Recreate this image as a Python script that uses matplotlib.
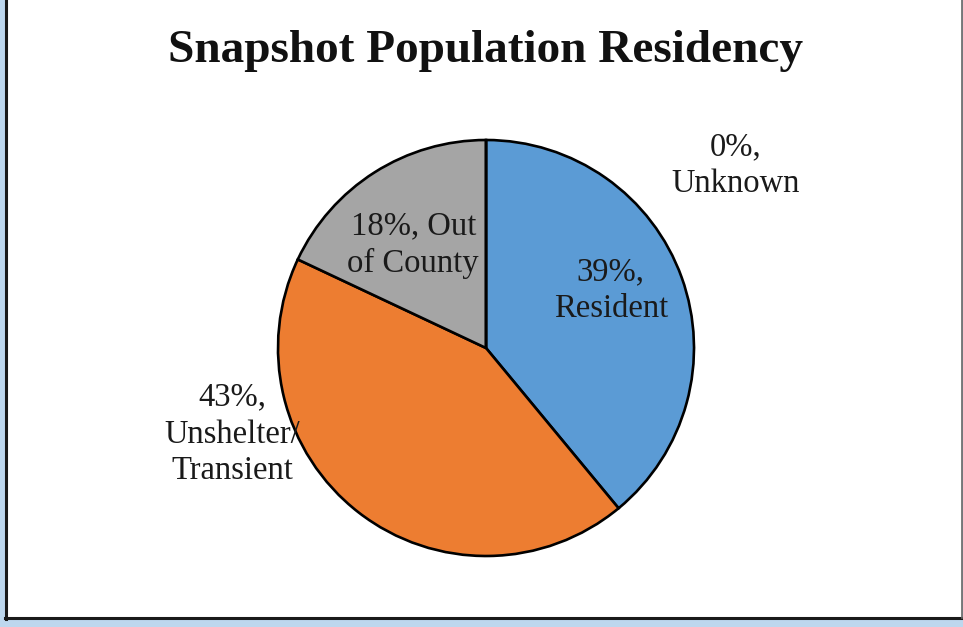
import matplotlib
matplotlib.use("Agg")
import matplotlib.pyplot as plt
from matplotlib.patches import Rectangle
from matplotlib.lines import Line2D
import numpy as np

categories = ["Resident", "Unshelter/\nTransient", "Out of\nCounty", "Unknown"]
label_texts = ["39%,\nResident", "43%,\nUnshelter/\nTransient", "18%, Out\nof County", "0%,\nUnknown"]
values = [39, 43, 18, 0]
colors = ["#5B9BD5", "#ED7D31", "#A5A5A5", "#FFC000"]
title = "Snapshot Population Residency"

W, H = 963, 627
fig = plt.figure(figsize=(W / 100, H / 100), dpi=100)
fig.patch.set_facecolor("#BDD7EE")

def fx(x):
    return x / W

def fy(y):
    return 1 - y / H

# white chart area
fig.add_artist(Rectangle((fx(6), fy(618)), fx(962) - fx(6), fy(0) - fy(618),
                         transform=fig.transFigure, facecolor="white", edgecolor="none", zorder=0))
fig.add_artist(Line2D([fx(5.5), fx(5.5)], [fy(0), fy(619)], transform=fig.transFigure,
                      color="#1a1a1a", lw=2.2))
fig.add_artist(Line2D([fx(5), fx(962)], [fy(618), fy(618)], transform=fig.transFigure,
                      color="#1a1a1a", lw=2.2))
fig.add_artist(Line2D([fx(962), fx(962)], [fy(0), fy(618)], transform=fig.transFigure,
                      color="#666666", lw=1.2))

ax = fig.add_axes([0, 0, 1, 1])
ax.set_xlim(0, W)
ax.set_ylim(0, H)
ax.set_aspect("equal")
ax.axis("off")

cx, cy, r = 486, H - 348, 208
wedges, _ = ax.pie(values, colors=colors, startangle=90, counterclock=False,
                   center=(cx, cy), radius=r, frame=True,
                   wedgeprops=dict(edgecolor="black", linewidth=1.9))
ax.set_xlim(0, W)
ax.set_ylim(0, H)
ax.axis("off")

font = "Liberation Serif"
# label offsets relative to pie centre, in radius units
offsets = [(0.60, 0.275), (-1.22, -0.415), (-0.35, 0.495), (1.20, 0.88)]
for txt, (ox, oy) in zip(label_texts, offsets):
    ax.text(cx + ox * r, cy + oy * r, txt, ha="center", va="center",
            fontsize=23.5, family=font, color="#1a1a1a", linespacing=1.27)

fig.text(fx(486), fy(51), title, ha="center", va="center", fontsize=34,
         family=font, weight="bold", color="#111111")

fig.savefig("out.png", dpi=100, facecolor=fig.get_facecolor())
